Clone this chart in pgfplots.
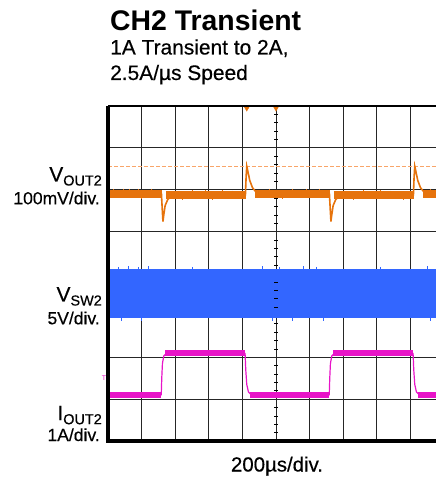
\documentclass[border=0pt]{standalone}
\usepackage{fontspec}
\setmainfont{Liberation Sans}
\newfontfamily\lab[FakeBold=0.35]{Liberation Sans}
\usepackage{pgfplots}
\pgfplotsset{compat=1.18}
\definecolor{vout}{RGB}{230,115,12}
\definecolor{voutdash}{RGB}{248,165,105}
\definecolor{vsw}{RGB}{51,102,255}
\definecolor{iout}{RGB}{232,20,200}
\newcommand{\sub}[1]{\raisebox{-4bp}[0pt][0pt]{\fontsize{14.5}{16}\selectfont #1}}
\begin{document}
\begin{tikzpicture}
\path[use as bounding box] (-108bp,-38bp) rectangle (328bp,441bp);
\begin{axis}[
  name=ax,
  at={(0,0)}, anchor=south west,
  scale only axis, width=328bp, height=335bp,
  xmin=0, xmax=9.762, ymin=0, ymax=8,
  xtick={0,...,9}, ytick={0,...,8},
  xticklabels={}, yticklabels={},
  major tick length=0pt,
  grid=major,
  major grid style={black!85, line width=0.8bp},
  axis line style={draw=none},
  clip=true,
]
% centre graticule ticks
\addplot[only marks, mark=-, mark size=2bp, black, mark options={line width=0.7bp}] coordinates {
(5,0.2) (5,0.4) (5,0.6) (5,0.8) (5,1.2) (5,1.4) (5,1.6) (5,1.8)
(5,2.2) (5,2.4) (5,2.6) (5,2.8) (5,3.2) (5,3.4) (5,3.6) (5,3.8)
(5,4.2) (5,4.4) (5,4.6) (5,4.8) (5,5.2) (5,5.4) (5,5.6) (5,5.8)
(5,6.2) (5,6.4) (5,6.6) (5,6.8) (5,7.2) (5,7.4) (5,7.6) (5,7.8)};
% V_SW2 band
\addplot[fill=vsw, draw=none] coordinates {(0,2.93) (9.77,2.93) (9.77,4.10) (0,4.10)} -- cycle;
\addplot[only marks, mark=|, mark size=1.6bp, vsw, mark options={line width=0.6bp}] coordinates {
(0.3,4.12) (0.6,4.13) (0.9,4.12) (1.2,4.13) (2.5,4.12) (4.6,4.13) (5.1,4.12) (5.8,4.13) (6.2,4.12)
(8.1,4.12) (9.5,4.13) (0.4,2.91) (1.0,2.9) (4.9,2.91) (5.5,2.9) (6.4,2.91) (9.6,2.9)};
% V_OUT2 dashed reference
\addplot[voutdash, line width=1bp, dash pattern=on 4bp off 2bp] coordinates {(0,6.563) (9.77,6.563)};
% V_OUT2 trace
\addplot[vout, line width=1.6bp] coordinates {
(0,5.905) (1.59,5.905) (1.61,5.6) (1.635,5.24) (1.66,5.40) (1.7,5.62) (1.78,5.77) (1.9,5.85) (2.0,5.875)
(4.09,5.875) (4.11,6.3) (4.13,6.56) (4.16,6.45) (4.22,6.22) (4.3,6.05) (4.4,5.95) (4.5,5.905)
(6.59,5.905) (6.61,5.6) (6.635,5.24) (6.66,5.40) (6.7,5.62) (6.78,5.77) (6.9,5.85) (7.0,5.875)
(9.09,5.875) (9.11,6.3) (9.13,6.56) (9.16,6.45) (9.22,6.22) (9.3,6.05) (9.4,5.95) (9.5,5.905) (9.77,5.905)};
\addplot[vout, line width=8bp] coordinates {(0,5.905) (1.6,5.905)};
\addplot[vout, line width=8bp] coordinates {(1.72,5.87) (4.1,5.87)};
\addplot[vout, line width=8bp] coordinates {(4.38,5.905) (6.6,5.905)};
\addplot[vout, line width=8bp] coordinates {(6.72,5.87) (9.1,5.87)};
\addplot[vout, line width=8bp] coordinates {(9.38,5.905) (9.77,5.905)};
\addplot[only marks, mark=|, mark size=2.4bp, vout, mark options={line width=0.6bp}] coordinates {
(0.15,5.96) (0.45,5.97) (0.62,5.95) (0.9,5.96) (1.3,5.97) (2.5,5.93) (2.9,5.94) (3.4,5.93) (3.7,5.92)
(4.8,5.96) (5.5,5.97) (5.9,5.96) (6.3,5.95) (7.6,5.93) (8.1,5.94) (8.4,5.92) (9.6,5.96)
(0.3,5.85) (1.0,5.84) (2.2,5.81) (3.1,5.82) (5.2,5.84) (6.0,5.85) (7.3,5.81) (8.8,5.82)};
% I_OUT2 trace
\addplot[iout, line width=1.2bp] coordinates {
(0,1.105) (1.585,1.105) (1.60,1.5) (1.62,1.85) (1.66,2.03) (1.74,2.093)
(4.08,2.093) (4.10,1.7) (4.13,1.35) (4.18,1.17) (4.26,1.105)
(6.585,1.105) (6.60,1.5) (6.62,1.85) (6.66,2.03) (6.74,2.093)
(9.08,2.093) (9.10,1.7) (9.13,1.35) (9.18,1.17) (9.26,1.105) (9.77,1.105)};
\addplot[iout, line width=6bp] coordinates {(0,1.105) (1.585,1.105)};
\addplot[iout, line width=6bp] coordinates {(1.70,2.093) (4.08,2.093)};
\addplot[iout, line width=6bp] coordinates {(4.22,1.105) (6.585,1.105)};
\addplot[iout, line width=6bp] coordinates {(6.70,2.093) (9.08,2.093)};
\addplot[iout, line width=6bp] coordinates {(9.22,1.105) (9.77,1.105)};
% trigger markers at top
\addplot[only marks, mark=triangle*, mark size=2.6bp, vout, mark options={rotate=180}] coordinates {(4.13,7.94) (5.0,7.94)};
\end{axis}
% screen border (left, bottom, top)
\draw[line width=3bp] (ax.north west) -- (ax.south west) -- (ax.south east);
\draw[line width=2.5bp] (ax.north west) -- (ax.north east);
% titles
\node[anchor=base west, inner sep=0] at (2bp,410.5bp) {\fontsize{28.5}{32}\selectfont\bfseries CH2 Transient};
\node[anchor=base west, inner sep=0] at (2bp,386.5bp) {\lab\fontsize{21}{24}\selectfont 1A Transient to 2A,};
\node[anchor=base west, inner sep=0] at (2bp,361bp) {\lab\fontsize{21}{24}\selectfont 2.5A/µs Speed};
\node[anchor=base, inner sep=0] at (169bp,-30.5bp) {\lab\fontsize{20.5}{23}\selectfont 200µs/div.};
% channel labels
\node[anchor=base east, inner sep=0] at (-6bp,259.5bp) {\lab\fontsize{21}{24}\selectfont V\sub{OUT2}};
\node[anchor=base east, inner sep=0] at (-8bp,236.7bp) {\lab\fontsize{17.6}{20}\selectfont 100mV/div.};
\node[anchor=base east, inner sep=0] at (-6bp,139.5bp) {\lab\fontsize{21}{24}\selectfont V\sub{SW2}};
\node[anchor=base east, inner sep=0] at (-8bp,116.7bp) {\lab\fontsize{17.6}{20}\selectfont 5V/div.};
\node[anchor=base east, inner sep=0] at (-6bp,20.8bp) {\lab\fontsize{21}{24}\selectfont I\sub{OUT2}};
\node[anchor=base east, inner sep=0] at (-8bp,0bp) {\lab\fontsize{17.6}{20}\selectfont 1A/div.};
% small trigger marker
\node[inner sep=0, text=iout] at (-4bp,63bp) {\fontsize{7}{7}\selectfont T};
\end{tikzpicture}
\end{document}
